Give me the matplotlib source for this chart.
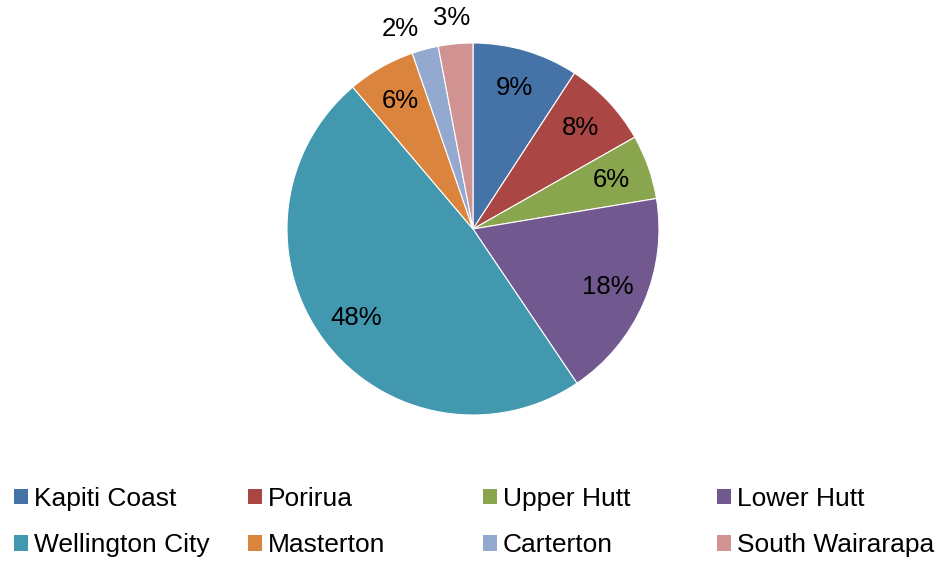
import numpy as np
import matplotlib
matplotlib.use("Agg")
import matplotlib.pyplot as plt
from matplotlib.patches import Patch

categories = ["Kapiti Coast", "Porirua", "Upper Hutt", "Lower Hutt",
              "Wellington City", "Masterton", "Carterton", "South Wairarapa"]
values = [9.2, 7.6, 5.6, 18.2, 48.3, 5.9, 2.3, 3.0]
colors = ["#4572A7", "#AA4643", "#89A54E", "#71588F",
          "#4198AF", "#DB843D", "#93A9CF", "#D19392"]

plt.rcParams['font.family'] = ['Liberation Sans', 'DejaVu Sans']

W, H = 940, 561
fig = plt.figure(figsize=(W / 100, H / 100), dpi=100)
cx, cy, r = 473, 229, 186
ax = fig.add_axes([(cx - r) / W, (H - cy - r) / H, 2 * r / W, 2 * r / H])
wedges, texts, autotexts = ax.pie(
    values, colors=colors, startangle=90, counterclock=False,
    autopct='%.0f%%', pctdistance=0.79, radius=1,
    wedgeprops=dict(edgecolor='white', linewidth=0.8),
    textprops=dict(fontsize=18.5, color='black'))
ax.set_xlim(-1, 1)
ax.set_ylim(-1, 1)
ax.set_aspect('equal')
ax.axis('off')

# small slices: labels outside (distance, extra angle offset in degrees)
outside = {6: (1.145, 5.0), 7: (1.14, 0.5)}
for i, (dist, off) in outside.items():
    w = wedges[i]
    ang = np.deg2rad((w.theta1 + w.theta2) / 2 + off)
    autotexts[i].set_position((dist * np.cos(ang), dist * np.sin(ang)))
    autotexts[i].set_clip_on(False)

ncols = 4
col_x = [14, 248, 483, 717]
for j in range(ncols):
    idx = [j, j + ncols]
    handles = [Patch(facecolor=colors[k], edgecolor='none') for k in idx]
    fig.legend(handles, [categories[k] for k in idx],
               loc='center left', bbox_to_anchor=(col_x[j] / W, 1 - 522 / H),
               frameon=False, fontsize=19, handlelength=0.52,
               handleheight=0.52, handletextpad=0.22, labelspacing=0.85,
               borderpad=0, borderaxespad=0)

fig.savefig("out.png", dpi=100)
